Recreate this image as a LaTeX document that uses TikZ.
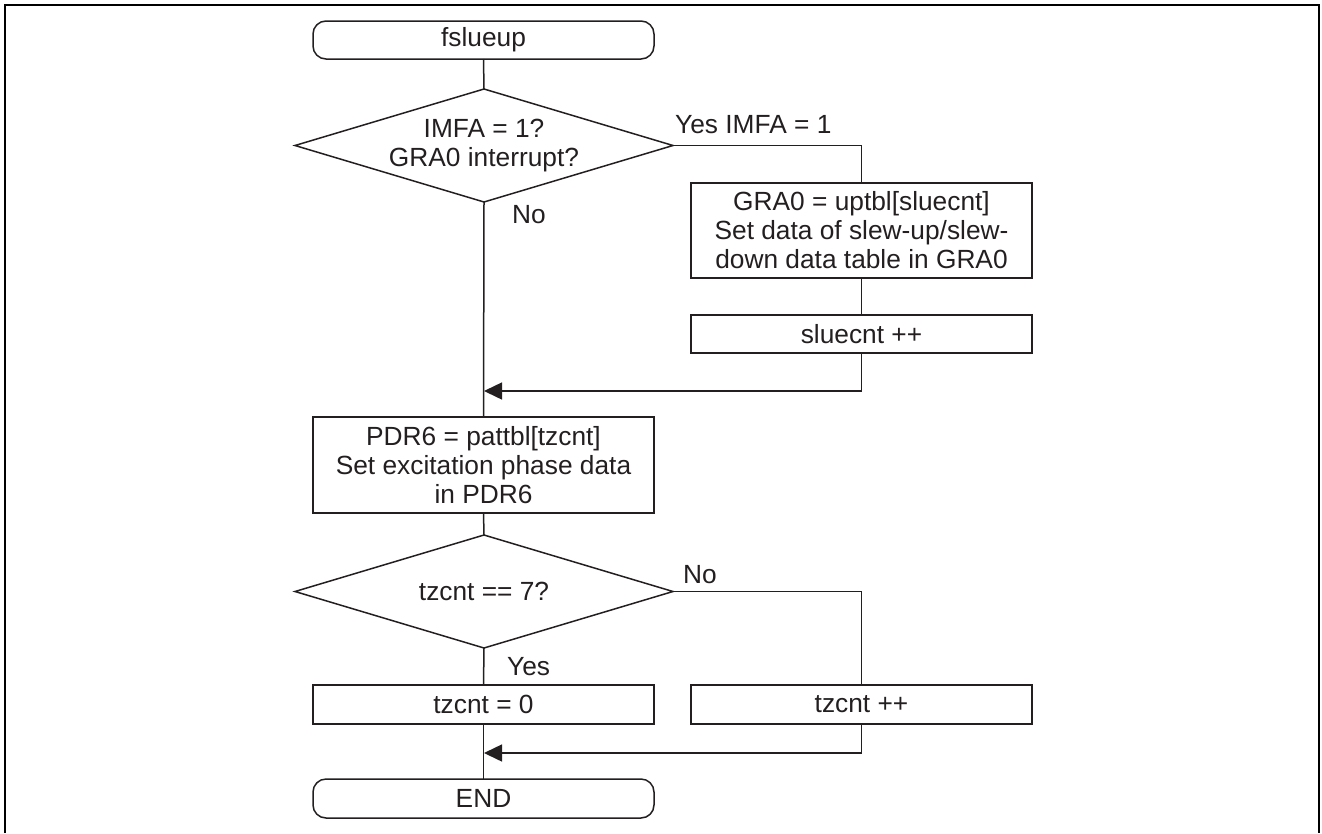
\documentclass[tikz,border=0pt]{standalone}
\usepackage{fontspec}
\setmainfont{Liberation Sans}
\usetikzlibrary{shapes.geometric,arrows.meta}
\definecolor{ink}{HTML}{231F20}
\begin{document}
\begin{tikzpicture}[x=1pt,y=-1pt,
  every node/.style={font=\fontsize{26.3}{29}\selectfont, text=ink},
  line/.style={draw=ink, line width=1.5pt},
  procbox/.style={line, rectangle, minimum width=341pt, inner sep=0pt, outer sep=0pt, align=center},
  termbox/.style={line, rectangle, rounded corners=13pt, minimum width=341pt, minimum height=38pt, inner sep=0pt, outer sep=0pt},
  decbox/.style={line, diamond, aspect=3.345, minimum width=378pt, minimum height=113pt, inner sep=0pt, outer sep=0pt, align=center},
  lbl/.style={anchor=west, inner sep=0pt},
  arr/.style={line, -{Triangle[length=18pt,width=17pt]}}
]
\useasboundingbox (0,0) rectangle (1322,833);
\draw[draw=black, line width=2pt] (5,833) -- (5,5) -- (1319,5) -- (1319,833);

\node[termbox] (start) at (483.5,40) {fslueup};
\node[decbox] (d1) at (484,145.5) {IMFA = 1?\\GRA0 interrupt?};
\node[procbox, minimum height=95pt] (gra) at (861.5,230.5) {GRA0 = uptbl[sluecnt]\\Set data of slew-up/slew-\\down data table in GRA0};
\node[procbox, minimum height=38pt] (slu) at (861.5,334) {sluecnt ++};
\coordinate (m1) at (484,391);
\node[procbox, minimum height=96pt] (pdr) at (483.5,465) {PDR6 = pattbl[tzcnt]\\Set excitation phase data\\in PDR6};
\node[decbox] (d2) at (484,591.5) {tzcnt == 7?};
\node[procbox, minimum height=39pt] (tz0) at (483.5,704.5) {tzcnt = 0};
\node[procbox, minimum height=39pt] (tzpp) at (861.5,704.5) {tzcnt ++};
\coordinate (m2) at (484,753);
\node[termbox, minimum height=39pt] (end) at (483.5,798.5) {END};

\node[lbl] (yes1) at (675,125) {Yes IMFA = 1};
\node[lbl] (no1) at (512,215) {No};
\node[lbl] (no2) at (683,575) {No};
\node[lbl] (yes2) at (507,667) {Yes};

\draw[line] (start.south) -- (d1.north);
\draw[line] (d1.east) -| (gra.north);
\draw[line] (gra.south) -- (slu.north);
\draw[arr] (slu.south) |- (m1);
\draw[line] (d1.south) -- (pdr.north);
\draw[line] (pdr.south) -- (d2.north);
\draw[line] (d2.east) -| (tzpp.north);
\draw[line] (d2.south) -- (tz0.north);
\draw[line] (tz0.south) -- (end.north);
\draw[arr] (tzpp.south) |- (m2);
\end{tikzpicture}
\end{document}
